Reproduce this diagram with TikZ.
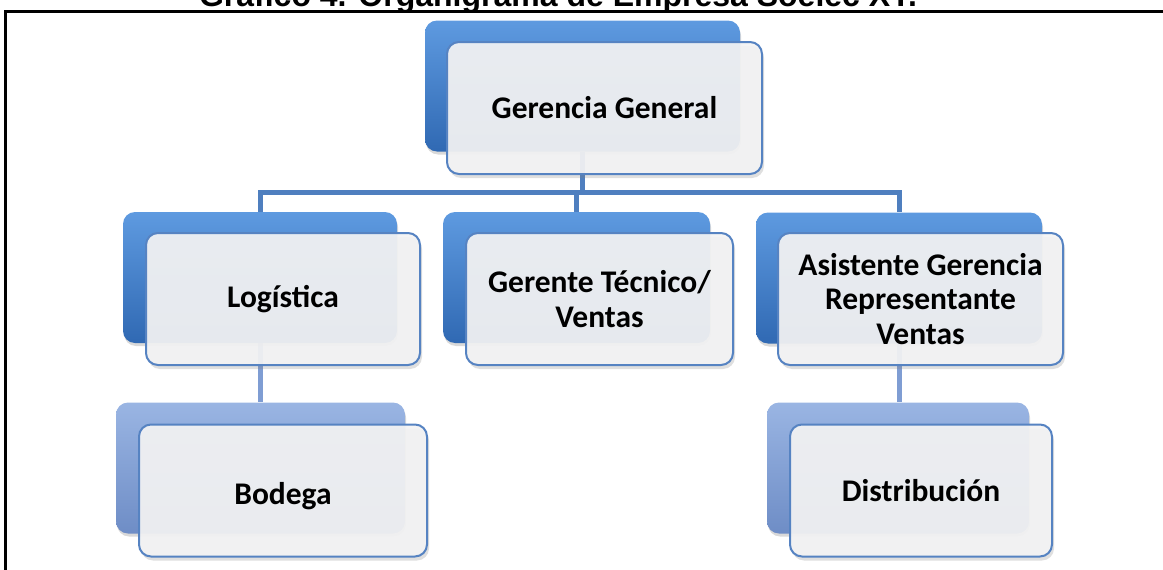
\documentclass[tikz,border=0pt]{standalone}
\usepackage{fontspec}
\setmainfont{Carlito}
\newfontfamily\titlefont{Liberation Sans}
\usetikzlibrary{shadows}

\definecolor{azul}{HTML}{3069B3}
\definecolor{azulclaro}{HTML}{5E9AE0}
\definecolor{celeste}{HTML}{6E8DC6}
\definecolor{celesteclaro}{HTML}{9AB5E3}
\definecolor{borde}{HTML}{5683C2}
\definecolor{linea}{HTML}{4F7FBF}
\definecolor{lineaclara}{HTML}{7F9DD3}
\definecolor{frente}{HTML}{F3F3F4}

\pgfdeclarelayer{bg}
\pgfsetlayers{bg,main}

\tikzset{
  backbox/.style={rectangle, rounded corners=12pt, minimum height=131pt,
    top color=azulclaro, bottom color=azul,
    drop shadow={opacity=0.3, shadow xshift=1pt, shadow yshift=-3pt}},
  backlight/.style={backbox, top color=celesteclaro, bottom color=celeste},
  frontbox/.style={rectangle, rounded corners=12pt, minimum height=132pt,
    draw=borde, line width=2pt, fill=frente, fill opacity=0.93, text opacity=1,
    align=center, font=\bfseries\fontsize{31.5}{34.5}\selectfont,
    drop shadow={opacity=0.25, shadow xshift=2pt, shadow yshift=-4pt}},
  conn/.style={line width=5pt, draw=linea},
  conn2/.style={line width=5pt, draw=lineaclara},
}

\begin{document}
\begin{tikzpicture}[x=1pt, y=-1pt]
  \useasboundingbox (0,0) rectangle (1163,570);
  \clip (0,0) rectangle (1163,570);

  % titulo y marco
  \node[font=\titlefont\bfseries\fontsize{32}{34}\selectfont, anchor=base, inner sep=0pt] (T0) at (558,6) {Gráfico 4. Organigrama de Empresa Soelec XY.};
  \draw[line width=3pt] (5,570) -- (5,11) -- (1163,11);

  % cajas de fondo
  \node[backbox, minimum width=315pt] (G) at (582.5,86) {};
  \node[backbox, minimum width=274pt] (L) at (260,277.5) {};
  \node[backbox, minimum width=267pt] (T) at (576.5,277.5) {};
  \node[backbox, minimum width=286pt] (A) at (899,278) {};
  \node[backlight, minimum width=289pt] (B) at (260.5,468) {};
  \node[backlight, minimum width=262pt] (D) at (898,468) {};

  % cajas de texto
  \node[frontbox, minimum width=315pt] (G1) at (604.5,108) {Gerencia General};
  \node[frontbox, minimum width=274pt] (L1) at (283,299) {Logística};
  \node[frontbox, minimum width=267pt] (T1) at (599.5,299) {Gerente Técnico/\\Ventas};
  \node[frontbox, minimum width=285pt] (A1) at (920.5,299) {Asistente Gerencia\\Representante\\Ventas};
  \node[frontbox, minimum width=288pt] (B1) at (283,490.5) {\rule{0pt}{33pt}Bodega};
  \node[frontbox, minimum width=262pt] (D1) at (921,490.5) {Distribución};

  % conectores
  \coordinate (bar) at (0,192);
  \begin{pgfonlayer}{bg}
    \draw[conn] (G.south) -- (G |- bar);
    \draw[conn] (L.north) -- (L |- bar) -- (A |- bar) -- (A.north);
    \draw[conn] (T.north) -- (T |- bar);
    \draw[conn2] (L.south) -- (L.south |- B.north);
    \draw[conn2] (A.south) -- (A.south |- D.north);
  \end{pgfonlayer}
\end{tikzpicture}
\end{document}
